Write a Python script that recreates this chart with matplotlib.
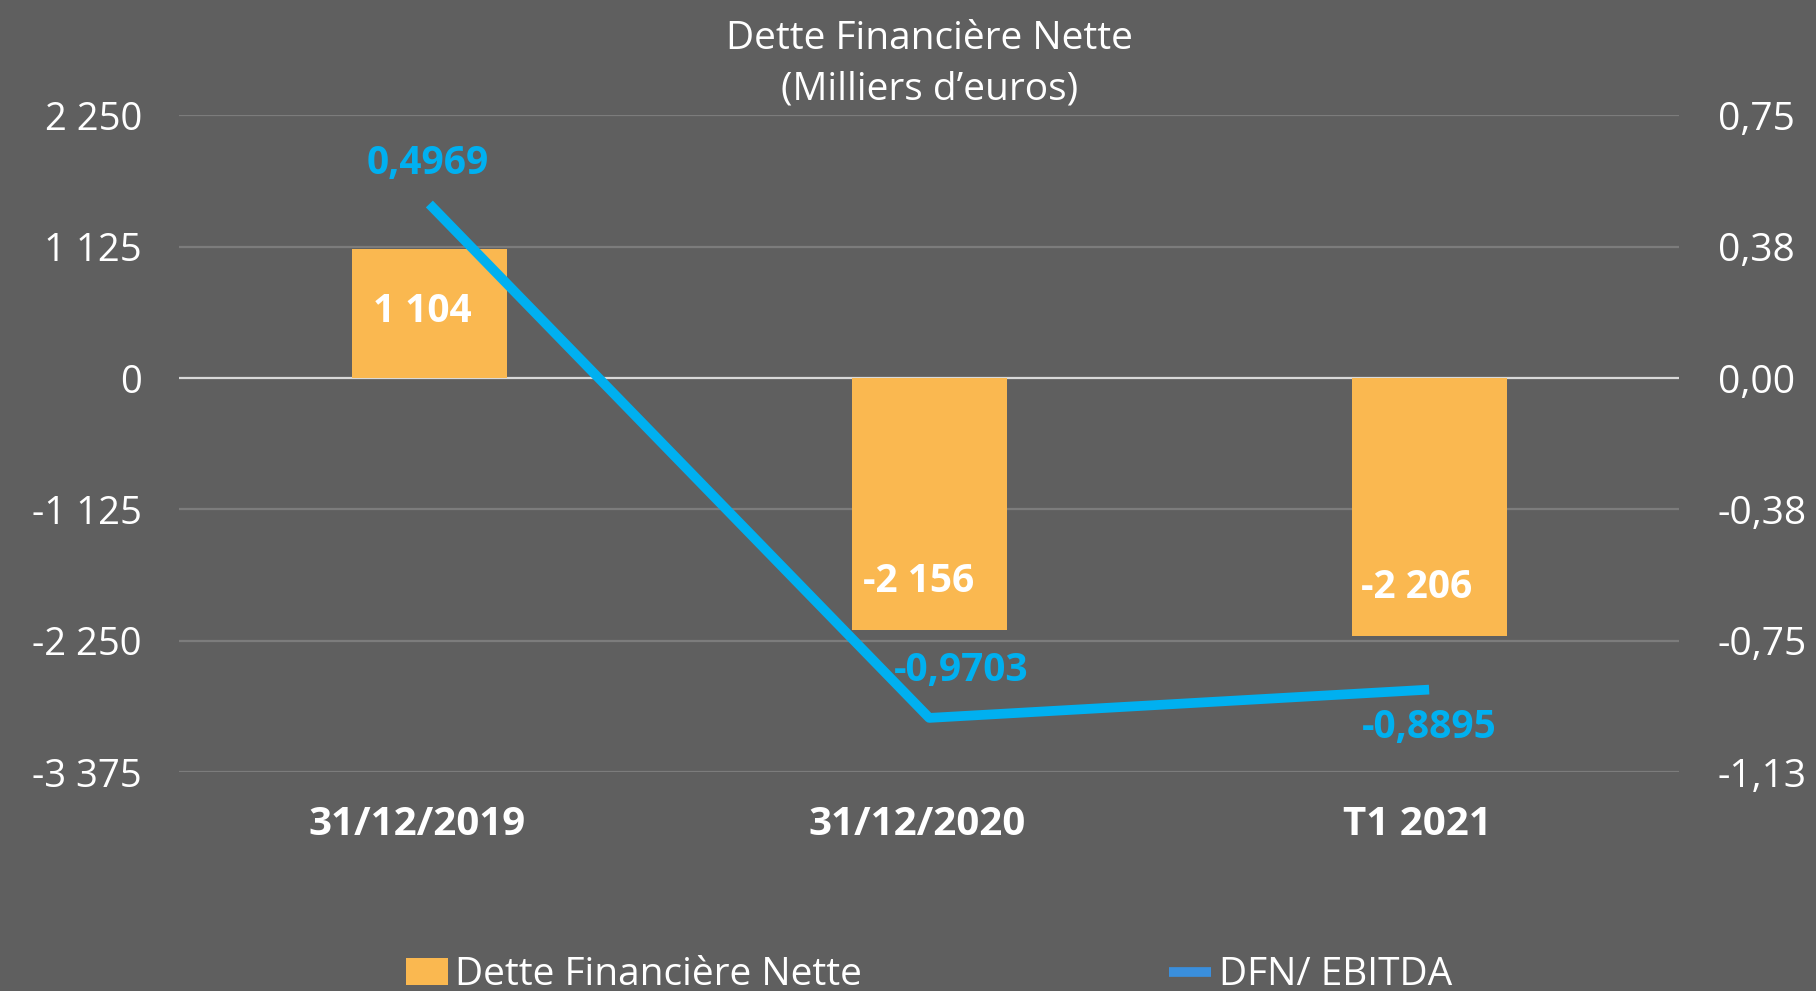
import matplotlib.pyplot as plt
import matplotlib.transforms as mtransforms
from matplotlib.lines import Line2D
from matplotlib.patches import Patch
import numpy as np

# data
categories = ['31/12/2019', '31/12/2020', 'T1 2021']
dette = [1104, -2156, -2206]
dette_labels = ['1 104', '-2 156', '-2 206']
ratio = [0.4969, -0.9703, -0.8895]
ratio_labels = ['0,4969', '-0,9703', '-0,8895']
left_ticks = [2250, 1125, 0, -1125, -2250, -3375]
left_ticklabels = ['2 250', '1 125', '0', '-1 125', '-2 250', '-3 375']
right_ticks = [0.75, 0.375, 0.0, -0.375, -0.75, -1.125]
right_ticklabels = ['0,75', '0,38', '0,00', '-0,38', '-0,75', '-1,13']

BG = '#5F5F5F'
ORANGE = '#FAB850'
BLUE = '#00B0F0'
GRID = '#7C7C7C'

plt.rcParams['font.family'] = ['Open Sans', 'DejaVu Sans']

fig = plt.figure(figsize=(18.16, 9.91), dpi=100, facecolor=BG)
ax = fig.add_axes([0.0988, 0.2209, 0.8258, 0.6627])
ax.set_facecolor(BG)
ax2 = ax.twinx()

x = np.arange(len(categories))
ax.bar(x, dette, width=0.31, color=ORANGE, zorder=2)
ax.set_xlim(-0.5, 2.5)
ax.set_ylim(-3375, 2250)
ax.set_yticks(left_ticks)
ax.set_yticklabels(left_ticklabels)
ax.set_xticks(x)
ax.set_xticklabels(categories, fontweight='bold', fontsize=29)
ax.tick_params(axis='y', length=0, pad=27, labelsize=27.5, colors='white')
ax.tick_params(axis='x', length=0, pad=24, colors='white')
# category labels sit a little left of the bar centres
shift = mtransforms.ScaledTranslation(-12 / 100, 0, fig.dpi_scale_trans)
for lbl in ax.get_xticklabels():
    lbl.set_transform(lbl.get_transform() + shift)
for t in left_ticks:
    ax.axhline(t, color='#D9D9D9' if t == 0 else GRID, lw=1.6, zorder=1)
for s in ax.spines.values():
    s.set_visible(False)

# bar labels, inside end
bar_offsets = [(-7, -62), (-11, 48), (-13, 48)]
for xi, v, lab, (dx, dy) in zip(x, dette, dette_labels, bar_offsets):
    ax.annotate(lab, (xi, v), xytext=(dx, dy), textcoords='offset pixels',
                ha='center', va='center', color='white', fontsize=28,
                fontweight='bold', zorder=5)

ax2.plot(x, ratio, color=BLUE, lw=7, solid_capstyle='butt', zorder=3)
ax2.set_ylim(-1.125, 0.75)
ax2.set_yticks(right_ticks)
ax2.set_yticklabels(right_ticklabels)
ax2.tick_params(axis='y', length=0, pad=28, labelsize=28, colors='white')
for s in ax2.spines.values():
    s.set_visible(False)

label_offsets = [(-2, 41), (32, 47), (0, -38)]
for xi, v, lab, (dx, dy) in zip(x, ratio, ratio_labels, label_offsets):
    ax2.annotate(lab, (xi, v), xytext=(dx, dy), textcoords='offset pixels',
                 ha='center', va='center', color=BLUE, fontsize=28,
                 fontweight='bold', zorder=5)

fig.text(0.512, 1 - 64 / 991, 'Dette Financière Nette\n(Milliers d’euros)',
         ha='center', va='center', color='white', fontsize=28, linespacing=1.43)

handles = [Patch(facecolor=ORANGE, edgecolor='none'),
           Line2D([0], [0], color='#3A8FDD', lw=7, solid_capstyle='butt')]
fig.legend(handles, ['Dette Financière Nette', 'DFN/ EBITDA'],
           loc='center', bbox_to_anchor=(0.5116, 0.016), ncol=2, frameon=False,
           fontsize=28, labelcolor='white', handlelength=1.08, handletextpad=0.2,
           columnspacing=7.9)

fig.savefig('out.png', dpi=100, facecolor=BG)
